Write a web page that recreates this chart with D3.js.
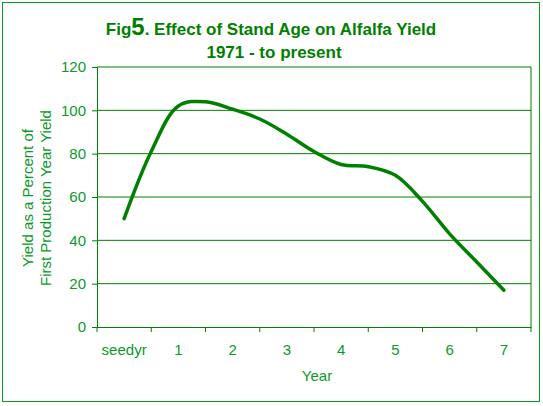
<!DOCTYPE html><html><head><meta charset="utf-8"><script src="https://d3js.org/d3.v7.min.js"></script>
<style>body{margin:0;background:#fff}text{font-family:"Liberation Sans",Arial,sans-serif}</style></head><body><svg id="c" width="543" height="406"></svg>
<script>
const categories=["seedyr","1","2","3","4","5","6","7"];
const positions=[0,0.5,1,1.5,2,2.5,3,3.5,4,4.5,5,5.5,6,6.5,7];
const yields=[50,81,102,104,100.5,96,89,81,75,74,70,58,43,30,17];
const yTicks=[0,20,40,60,80,100,120];
const green="#0a9a2a",dark="#008000";
const svg=d3.select("#c");
svg.append("rect").attr("x",2.5).attr("y",2.5).attr("width",537).attr("height",399).attr("fill","#fff").attr("stroke",green).attr("stroke-width",1);
const L=97,R=531,T=67,B=327;
const y=d3.scaleLinear().domain([0,120]).range([B,T]);
const band=d3.scaleBand().domain(categories).range([L,R]);
const xp=d3.scaleLinear().domain([0,7]).range([L+band.bandwidth()/2,R-band.bandwidth()/2]);
const g=svg.append("g");
g.selectAll("line.gr").data(yTicks.slice(1)).join("line").attr("x1",L).attr("x2",R).attr("y1",d=>y(d)).attr("y2",d=>y(d)).attr("stroke",dark).attr("stroke-width",1);
g.append("line").attr("x1",R).attr("x2",R).attr("y1",T).attr("y2",B).attr("stroke",dark);
const ya=svg.append("g").attr("transform",`translate(${L},0)`).call(d3.axisLeft(y).tickValues(yTicks).tickSize(5).tickPadding(6));
const xa=svg.append("g").attr("transform",`translate(0,${B})`).call(d3.axisBottom(band).tickSize(0).tickPadding(17));
svg.selectAll("line.xt").data(d3.range(categories.length+1)).join("line").attr("x1",i=>L+i*band.step()).attr("x2",i=>L+i*band.step()).attr("y1",B).attr("y2",B+5).attr("stroke",dark);
[ya,xa].forEach(a=>{a.selectAll("path,line").attr("stroke",dark);a.selectAll("text").attr("fill",green).attr("font-size",15).attr("font-family","Liberation Sans,Arial,sans-serif");});
svg.append("path").datum(positions.map((p,i)=>[p,yields[i]])).attr("fill","none").attr("stroke",dark).attr("stroke-width",3.5).attr("stroke-linecap","round")
 .attr("d",d3.line().x(d=>xp(d[0])).y(d=>y(d[1])).curve(d3.curveCatmullRom.alpha(0.5)));
const t=svg.append("text").attr("x",271).attr("y",35).attr("text-anchor","middle").attr("fill",dark).attr("font-weight","bold").attr("font-size",17);
t.append("tspan").text("Fig");t.append("tspan").attr("font-size",24).text("5");t.append("tspan").text(". Effect of Stand Age on Alfalfa Yield");
svg.append("text").attr("x",274).attr("y",58).attr("text-anchor","middle").attr("fill",dark).attr("font-weight","bold").attr("font-size",17).text("1971 - to present");
svg.append("text").attr("x",317).attr("y",381).attr("text-anchor","middle").attr("fill",green).attr("font-size",15).text("Year");
const yl=svg.append("text").attr("transform","translate(33,198) rotate(-90)").attr("text-anchor","middle").attr("fill",green).attr("font-size",15);
yl.append("tspan").attr("x",0).attr("dy",0).text("Yield as a Percent of");
yl.append("tspan").attr("x",0).attr("dy",18).text("First Production Year Yield");
</script></body></html>
